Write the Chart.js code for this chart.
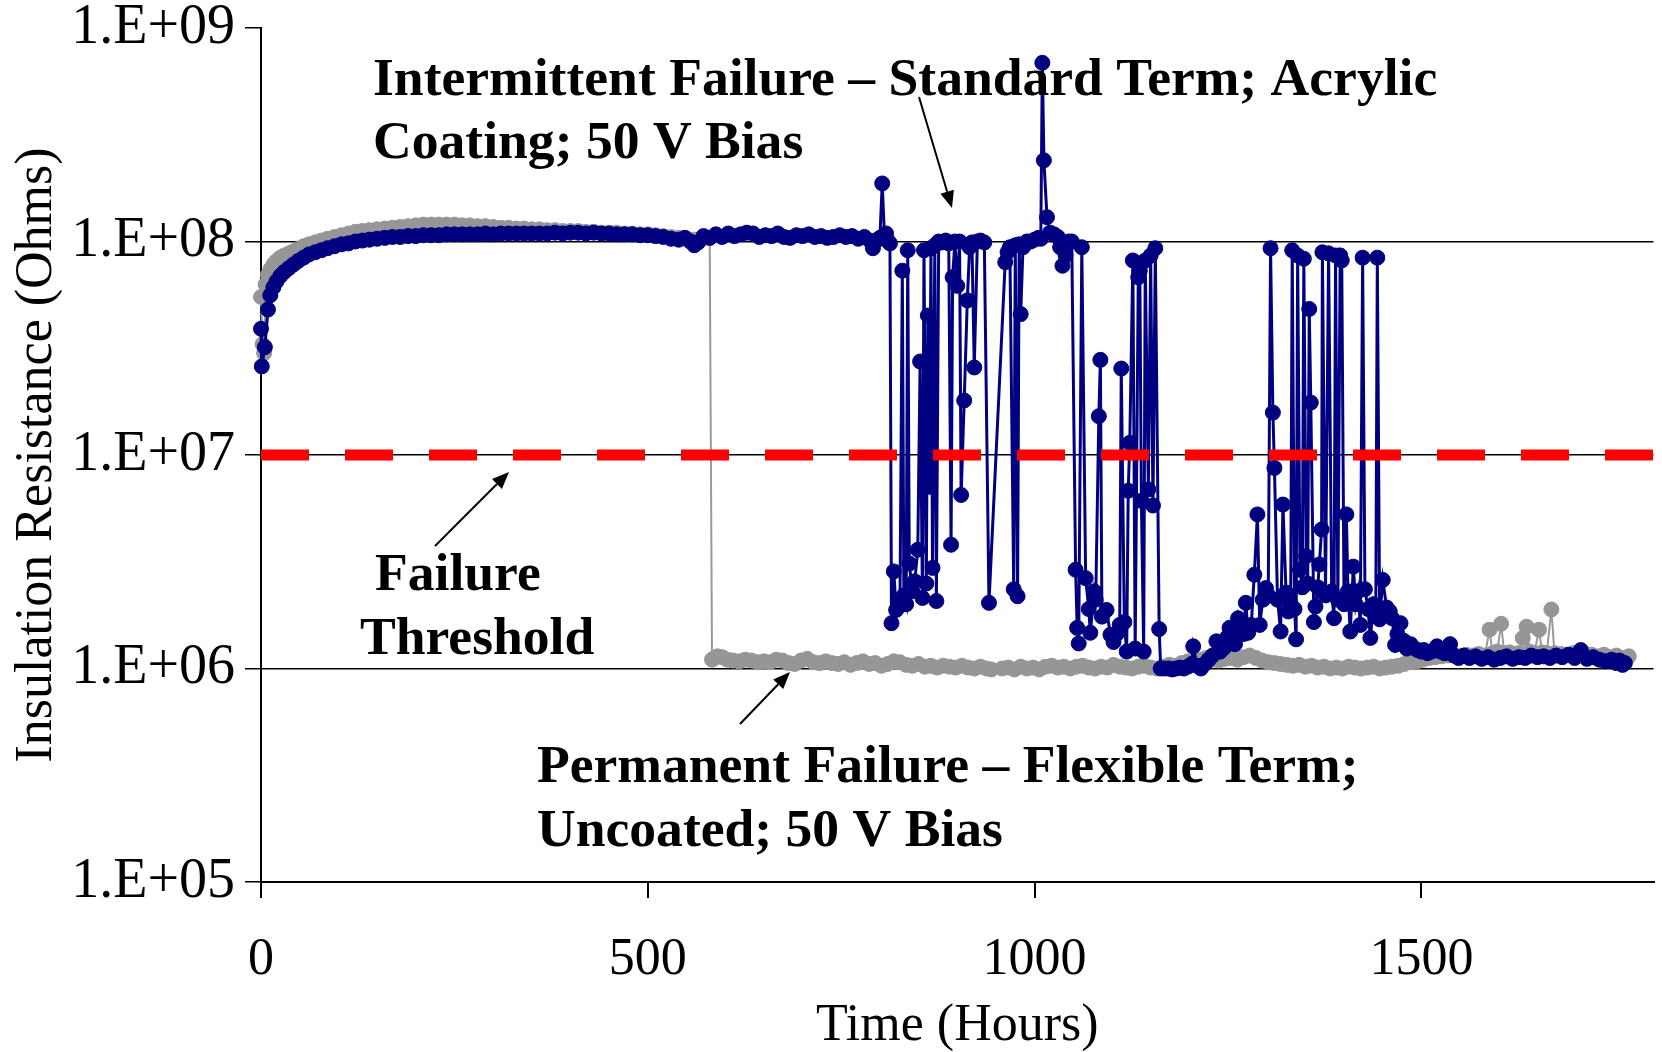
<!DOCTYPE html>
<html><head><meta charset="utf-8">
<script src="https://cdn.jsdelivr.net/npm/chart.js@4/dist/chart.umd.min.js"></script>
<style>html,body{margin:0;padding:0;background:#fff;overflow:hidden}</style>
</head><body>
<canvas id="c" width="1662" height="1052"></canvas>
<script>
// ---------------- DATA ----------------
const xTickValues = [0, 500, 1000, 1500];
const xTickLabels = ["0", "500", "1000", "1500"];
const yTickValues = [1e5, 1e6, 1e7, 1e8, 1e9];
const yTickLabels = ["1.E+05", "1.E+06", "1.E+07", "1.E+08", "1.E+09"];
const thresholdOhms = 1e7;
const thresholdHours = [0, 1800];

// Intermittent Failure – Standard Term; Acrylic Coating; 50 V Bias  [hours, ohms]
const intermittentSeries = [
 [0,3.9e7],[1,2.6e7],[5,3.2e7],[9,4.8e7],[12,5.6e7],[16,6.1e7],[20,6.5e7],[25,6.9e7],[30,7.2e7],[36,7.5e7],
 [42,7.8e7],[48,8.1e7],[55,8.4e7],[62,8.7e7],[70,8.9e7],[78,9.1e7],[86,9.3e7],[95,9.5e7],[104,9.7e7],[113,9.8e7],
 [122,1.0e8],[131,1.01e8],[140,1.02e8],[150,1.03e8],[160,1.04e8],[170,1.05e8],[180,1.05e8],[190,1.06e8],[200,1.06e8],[210,1.07e8],
 [220,1.07e8],[230,1.07e8],[240,1.08e8],[250,1.08e8],[260,1.08e8],[270,1.08e8],[280,1.08e8],[290,1.09e8],[300,1.08e8],[310,1.09e8],
 [320,1.09e8],[330,1.09e8],[340,1.09e8],[350,1.09e8],[360,1.09e8],[370,1.09e8],[380,1.10e8],[390,1.09e8],[400,1.10e8],[410,1.10e8],
 [420,1.09e8],[430,1.10e8],[440,1.09e8],[450,1.09e8],[460,1.08e8],[470,1.08e8],[480,1.08e8],[490,1.07e8],[500,1.07e8],[510,1.06e8],
 [520,1.05e8],[530,1.03e8],[540,1.02e8],[548,1.04e8],[555,1.00e8],[560,9.6e7],[565,9.9e7],[572,1.06e8],[580,1.04e8],[588,1.08e8],
 [596,1.05e8],[604,1.09e8],[612,1.06e8],[620,1.08e8],[628,1.10e8],[636,1.09e8],[644,1.05e8],[652,1.07e8],[660,1.06e8],[668,1.09e8],
 [676,1.05e8],[684,1.04e8],[692,1.07e8],[700,1.06e8],[708,1.08e8],[716,1.05e8],[724,1.06e8],[732,1.04e8],[740,1.05e8],[748,1.07e8],
 [756,1.05e8],[764,1.06e8],[772,1.03e8],[780,1.05e8],[787,1.01e8],[791,9.3e7],[797,1.02e8],[800,1.04e8],[803,1.87e8],[806,1.05e8],
 [808,1.09e8],[811,1.0e8],[813,9.8e7],[815,1.63e6],[818,2.85e6],[821,1.88e6],[824,1.95e6],[826,2.1e6],[829,7.3e7],[831,2.2e6],
 [834,2.0e6],[836,9.1e7],[838,3.1e6],[842,2.3e6],[845,2.56e6],[849,3.6e6],[852,2.74e7],[855,2.14e6],[857,9.1e7],[860,2.5e6],
 [862,4.5e7],[864,7.1e6],[866,9.3e7],[868,2.96e6],[871,9.6e7],[873,2.07e6],[876,1.0e8],[880,9.9e7],[885,1.01e8],[889,9.8e7],
 [892,3.8e6],[894,6.8e7],[897,1.0e8],[900,6.2e7],[903,1.0e8],[905,6.5e6],[909,1.8e7],[913,5.3e7],[916,9.4e7],[919,9.9e7],
 [922,2.57e7],[926,1.0e8],[930,1.01e8],[935,9.9e7],[941,2.03e6],[962,8.0e7],[965,8.9e7],[968,9.4e7],[973,2.35e6],[975,9.6e7],
 [978,2.18e6],[980,9.7e7],[982,4.57e7],[985,9.4e7],[990,1.0e8],[995,1.0e8],[1000,1.02e8],[1005,1.04e8],[1008,1.03e8],[1010,6.87e8],
 [1012,2.4e8],[1016,1.3e8],[1020,1.1e8],[1025,1.08e8],[1030,1.05e8],[1033,9.4e7],[1036,7.7e7],[1040,8.6e7],[1044,1.0e8],[1048,1.0e8],
 [1053,2.9e6],[1055,1.55e6],[1057,1.31e6],[1061,9.4e7],[1066,2.65e6],[1070,1.9e6],[1072,1.47e6],[1077,2.3e6],[1079,2.1e6],[1083,1.52e7],
 [1085,2.79e7],[1087,1.75e6],[1093,1.88e6],[1098,1.44e6],[1102,1.33e6],[1106,1.45e6],[1110,1.6e6],[1112,2.54e7],[1116,1.65e6],[1119,1.2e6],
 [1121,6.8e6],[1123,1.14e7],[1127,8.15e7],[1130,1.24e6],[1134,6.8e7],[1136,7.3e7],[1138,6.1e6],[1141,1.2e6],[1143,8.15e7],[1147,6.9e6],
 [1150,8.6e7],[1153,5.8e6],[1156,9.3e7],[1161,1.53e6],[1163,1.0e6],[1168,1.0e6],[1173,1.0e6],[1178,0.99e6],[1183,1.0e6],[1188,1.01e6],
 [1193,1.0e6],[1198,1.02e6],[1203,1.05e6],[1205,1.27e6],[1210,1.03e6],[1215,1.0e6],[1220,1.05e6],[1225,1.10e6],[1230,1.15e6],[1235,1.34e6],
 [1240,1.2e6],[1245,1.25e6],[1249,1.4e6],[1252,1.55e6],[1256,1.41e6],[1259,1.3e6],[1263,1.72e6],[1266,1.5e6],[1270,1.45e6],[1273,2.03e6],
 [1276,1.47e6],[1280,1.6e6],[1284,2.75e6],[1288,5.27e6],[1291,1.6e6],[1295,2.1e6],[1299,2.38e6],[1302,2.2e6],[1305,9.3e7],[1308,1.58e7],
 [1310,8.7e6],[1314,2.1e6],[1318,1.49e6],[1321,5.86e6],[1325,2.27e6],[1328,1.85e6],[1331,2.0e6],[1333,9.1e7],[1336,1.9e6],[1338,1.37e6],
 [1340,8.6e7],[1343,2.9e6],[1346,2.4e6],[1348,8.3e7],[1351,3.36e6],[1353,2.5e6],[1355,4.83e7],[1357,1.76e7],[1361,1.65e6],[1363,1.95e6],
 [1366,2.4e6],[1368,3.07e6],[1371,4.48e6],[1372,8.9e7],[1376,2.2e6],[1380,8.8e7],[1384,2.3e6],[1387,1.72e6],[1389,8.6e7],[1392,2.1e6],
 [1395,8.6e7],[1397,8.15e7],[1400,2.0e6],[1403,5.27e6],[1405,2.3e6],[1408,1.49e6],[1412,3.0e6],[1415,2.0e6],[1418,2.3e6],[1421,1.6e6],
 [1424,8.4e7],[1427,2.35e6],[1431,1.9e6],[1434,1.39e6],[1438,2.0e6],[1441,1.8e6],[1443,8.4e7],[1446,1.7e6],[1450,2.6e6],[1455,1.93e6],
 [1459,1.85e6],[1462,1.72e6],[1466,1.29e6],[1469,1.45e6],[1473,1.63e6],[1477,1.35e6],[1481,1.24e6],[1486,1.3e6],[1490,1.25e6],[1495,1.22e6],
 [1500,1.2e6],[1503,1.22e6],[1508,1.18e6],[1513,1.2e6],[1520,1.27e6],[1525,1.2e6],[1530,1.18e6],[1537,1.3e6],[1542,1.15e6],[1548,1.12e6],
 [1555,1.15e6],[1562,1.12e6],[1570,1.14e6],[1578,1.11e6],[1586,1.13e6],[1594,1.10e6],[1602,1.12e6],[1610,1.14e6],[1618,1.11e6],[1626,1.13e6],
 [1634,1.12e6],[1642,1.15e6],[1650,1.13e6],[1658,1.14e6],[1666,1.12e6],[1674,1.15e6],[1682,1.13e6],[1690,1.16e6],[1698,1.12e6],[1706,1.22e6],
 [1714,1.11e6],[1722,1.13e6],[1730,1.10e6],[1738,1.08e6],[1746,1.10e6],[1752,1.06e6],[1756,1.09e6],[1760,1.04e6],[1763,1.06e6]
];

// Permanent Failure – Flexible Term; Uncoated; 50 V Bias  [hours, ohms]
const permanentSeries = [
 [0,5.5e7],[2,3.3e7],[4,3.0e7],[6,6.3e7],[9,7.0e7],[12,7.4e7],[16,7.8e7],[20,8.1e7],[25,8.4e7],[30,8.6e7],
 [36,8.8e7],[42,9.0e7],[48,9.2e7],[55,9.5e7],[62,9.7e7],[70,9.9e7],[78,1.01e8],[86,1.03e8],[95,1.05e8],[104,1.07e8],
 [113,1.09e8],[122,1.11e8],[131,1.12e8],[140,1.13e8],[150,1.14e8],[160,1.15e8],[170,1.16e8],[180,1.17e8],[190,1.18e8],[200,1.19e8],
 [210,1.20e8],[220,1.20e8],[230,1.20e8],[240,1.20e8],[250,1.20e8],[260,1.19e8],[270,1.19e8],[280,1.18e8],[290,1.18e8],[300,1.17e8],
 [310,1.16e8],[320,1.16e8],[330,1.15e8],[340,1.15e8],[350,1.14e8],[360,1.14e8],[370,1.13e8],[380,1.13e8],[390,1.12e8],[400,1.12e8],
 [410,1.12e8],[420,1.11e8],[430,1.11e8],[440,1.10e8],[450,1.10e8],[460,1.10e8],[470,1.09e8],[480,1.09e8],[490,1.08e8],[500,1.08e8],
 [510,1.07e8],[520,1.06e8],[530,1.05e8],[540,1.04e8],[550,1.03e8],[560,1.02e8],[570,1.03e8],[580,1.04e8],[583,1.10e6],[586,1.12e6],
 [590,1.14e6],[596,1.13e6],[603,1.10e6],[610,1.09e6],[618,1.08e6],[626,1.10e6],[634,1.09e6],[642,1.07e6],[650,1.08e6],[658,1.07e6],
 [666,1.10e6],[674,1.09e6],[682,1.06e6],[690,1.05e6],[698,1.09e6],[706,1.11e6],[714,1.07e6],[722,1.06e6],[730,1.08e6],[738,1.06e6],
 [746,1.05e6],[754,1.07e6],[762,1.04e6],[770,1.06e6],[778,1.08e6],[786,1.05e6],[794,1.06e6],[802,1.03e6],[810,1.05e6],[818,1.08e6],
 [826,1.07e6],[834,1.04e6],[842,1.03e6],[850,1.05e6],[858,1.02e6],[866,1.03e6],[874,1.01e6],[882,1.03e6],[890,1.02e6],[898,1.01e6],
 [906,1.03e6],[914,1.01e6],[922,1.00e6],[930,1.02e6],[938,1.00e6],[944,0.99e6],[950,null],[958,1.0e6],[966,1.01e6],[974,0.99e6],
 [982,1.02e6],[990,1.00e6],[998,1.01e6],[1006,0.99e6],[1014,1.02e6],[1022,1.03e6],[1030,1.01e6],[1038,1.02e6],[1046,1.00e6],[1054,1.02e6],
 [1062,1.03e6],[1070,1.01e6],[1078,1.00e6],[1086,1.02e6],[1094,1.01e6],[1102,1.04e6],[1110,1.02e6],[1118,1.01e6],[1126,1.00e6],[1134,1.02e6],
 [1142,1.03e6],[1150,1.01e6],[1158,1.00e6],[1166,1.02e6],[1174,1.04e6],[1182,1.03e6],[1190,1.06e6],[1198,1.08e6],[1206,1.07e6],[1214,1.10e6],
 [1222,1.12e6],[1230,1.10e6],[1238,1.09e6],[1246,1.11e6],[1254,1.12e6],[1262,1.10e6],[1270,1.13e6],[1278,1.15e6],[1286,1.12e6],[1294,1.09e6],
 [1302,1.07e6],[1310,1.06e6],[1318,1.05e6],[1326,1.04e6],[1334,1.03e6],[1342,1.04e6],[1350,1.02e6],[1358,1.03e6],[1366,1.01e6],[1374,1.02e6],
 [1382,1.00e6],[1390,1.01e6],[1398,1.00e6],[1406,1.02e6],[1414,1.01e6],[1422,1.00e6],[1430,1.01e6],[1438,1.02e6],[1446,1.00e6],[1454,1.01e6],
 [1462,1.02e6],[1470,1.03e6],[1478,1.05e6],[1486,1.07e6],[1494,1.08e6],[1502,1.10e6],[1510,1.12e6],[1518,1.13e6],[1526,1.14e6],[1534,1.15e6],
 [1542,1.16e6],[1550,1.14e6],[1558,1.16e6],[1566,1.15e6],[1574,1.17e6],[1582,1.15e6],[1588,1.52e6],[1592,1.18e6],[1598,1.20e6],[1603,1.62e6],
 [1607,1.18e6],[1614,1.19e6],[1620,1.17e6],[1626,1.18e6],[1631,1.39e6],[1636,1.57e6],[1640,1.20e6],[1646,1.18e6],[1652,1.52e6],[1656,1.19e6],
 [1662,1.18e6],[1668,1.89e6],[1672,1.18e6],[1680,1.17e6],[1688,1.16e6],[1696,1.18e6],[1704,1.15e6],[1712,1.17e6],[1720,1.16e6],[1728,1.14e6],
 [1736,1.16e6],[1744,1.13e6],[1752,1.15e6],[1760,1.12e6],[1768,1.14e6]
];

// ---------------- CHART ----------------
const FONT = '"Liberation Serif", "Times New Roman", serif';
const toPts = s => s.map(p => ({x: p[0], y: p[1]}));

const annotations = {
  id: 'annotations',
  afterDraw(chart) {
    const ctx = chart.ctx;
    ctx.save();
    ctx.fillStyle = '#000';
    ctx.font = 'bold 53.6px ' + FONT;
    ctx.textAlign = 'left';
    ctx.textBaseline = 'alphabetic';
    const lines = [
      ['Intermittent Failure \u2013 Standard Term; Acrylic', 373, 95],
      ['Coating; 50 V Bias', 373, 158],
      ['Failure', 375, 590],
      ['Threshold', 360, 654],
      ['Permanent Failure \u2013 Flexible Term;', 537, 782],
      ['Uncoated; 50 V Bias', 537, 846]
    ];
    lines.forEach(l => ctx.fillText(l[0], l[1], l[2]));
    const arrow = (x1, y1, x2, y2) => {
      const a = Math.atan2(y2 - y1, x2 - x1);
      const hl = 17, hw = 7;
      const bx = x2 - hl * Math.cos(a), by = y2 - hl * Math.sin(a);
      ctx.strokeStyle = '#000'; ctx.lineWidth = 2;
      ctx.beginPath(); ctx.moveTo(x1, y1); ctx.lineTo(bx, by); ctx.stroke();
      ctx.beginPath();
      ctx.moveTo(x2, y2);
      ctx.lineTo(bx + hw * Math.sin(a), by - hw * Math.cos(a));
      ctx.lineTo(bx - hw * Math.sin(a), by + hw * Math.cos(a));
      ctx.closePath(); ctx.fill();
    };
    arrow(919, 97, 952, 208);
    arrow(435, 546, 509, 472);
    arrow(740, 724, 790, 672);
    ctx.restore();
  }
};

new Chart(document.getElementById('c'), {
  type: 'line',
  data: {
    datasets: [
      {
        label: 'Failure Threshold',
        data: thresholdHours.map(h => ({x: h, y: thresholdOhms})),
        borderColor: '#ff0000', borderWidth: 11, borderDash: [48, 36], borderCapStyle: 'butt',
        pointRadius: 0, fill: false, clip: false
      },
      {
        label: 'Intermittent',
        data: toPts(intermittentSeries),
        borderColor: '#000080', backgroundColor: '#000080', borderWidth: 3,
        pointRadius: 7.5, pointBorderWidth: 1, pointBackgroundColor: '#000080', pointBorderColor: '#000080',
        tension: 0, fill: false, clip: false
      },
      {
        label: 'Permanent',
        data: toPts(permanentSeries),
        borderColor: '#999999', backgroundColor: '#969696', borderWidth: 2,
        pointRadius: 7.5, pointBorderWidth: 1, pointBackgroundColor: '#969696', pointBorderColor: '#969696',
        tension: 0, fill: false, clip: false, spanGaps: false
      }
    ]
  },
  options: {
    responsive: false, animation: false, devicePixelRatio: 1,
    layout: { padding: { left: 0, right: 1, top: 28, bottom: 0 } },
    plugins: { legend: { display: false }, tooltip: { enabled: false } },
    scales: {
      x: {
        type: 'linear', min: 0, max: 1800,
        afterBuildTicks: s => { s.ticks = xTickValues.map(v => ({value: v})); },
        afterFit: s => { s.height = 170; s.paddingLeft = 0; s.paddingRight = 0; },
        ticks: {
          font: { family: FONT, size: 52 }, color: '#000', padding: 31, maxRotation: 0, autoSkip: false,
          callback: (v) => { const i = xTickValues.indexOf(v); return i >= 0 ? xTickLabels[i] : ''; }
        },
        grid: { display: true, drawOnChartArea: false, drawTicks: true, tickLength: 16, color: '#000', tickColor: '#000', lineWidth: 2 },
        border: { display: true, color: '#000', width: 2 },
        title: { display: true, text: 'Time (Hours)', color: '#000', font: { family: FONT, size: 52, lineHeight: 1 }, padding: { top: 0, bottom: 0 } }
      },
      y: {
        type: 'logarithmic', min: 1e5, max: 1e9,
        afterBuildTicks: s => { s.ticks = yTickValues.map(v => ({value: v})); },
        afterFit: s => { s.width = 261; s.paddingTop = 0; s.paddingBottom = 0; },
        ticks: {
          font: { family: FONT, size: 56, lineHeight: 1 }, color: '#000', padding: 10, autoSkip: false,
          callback: (v) => { const i = yTickValues.indexOf(v); return i >= 0 ? yTickLabels[i] : ''; }
        },
        grid: {
          color: c => (c.tick && c.tick.value === 1e9) ? 'rgba(0,0,0,0)' : '#000',
          tickColor: '#000', lineWidth: 1.5, tickLength: 16, drawTicks: true
        },
        border: { display: true, color: '#000', width: 2 },
        title: { display: true, text: 'Insulation Resistance (Ohms)', color: '#000', font: { family: FONT, size: 52, lineHeight: 1 }, padding: { top: 11, bottom: 0 } }
      }
    }
  },
  plugins: [annotations]
});
</script>
</body></html>
